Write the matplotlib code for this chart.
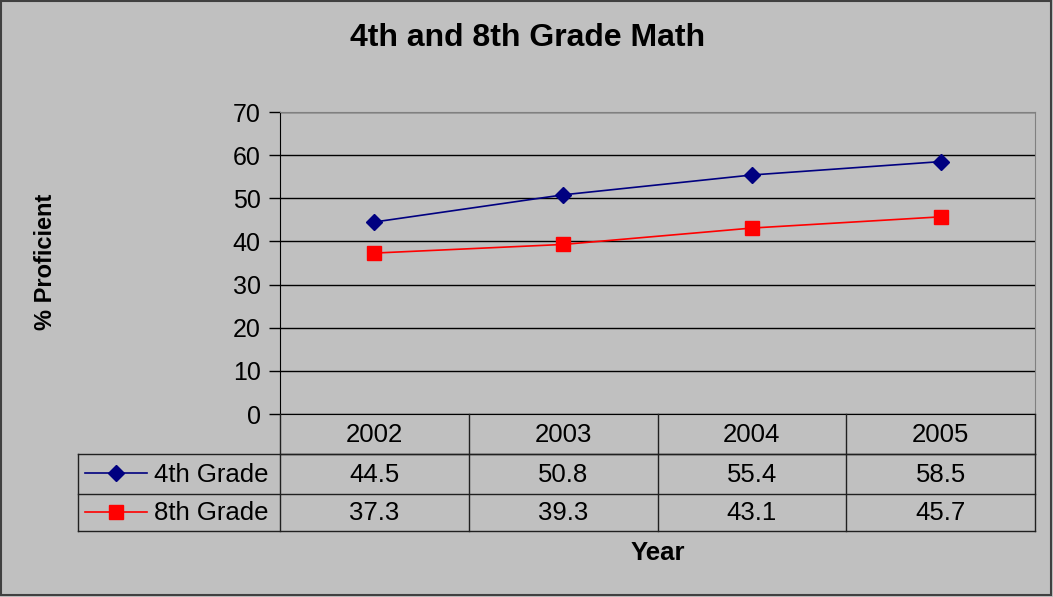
import matplotlib.pyplot as plt
from matplotlib.transforms import blended_transform_factory
from matplotlib.patches import Rectangle

years = ["2002", "2003", "2004", "2005"]
grade4 = [44.5, 50.8, 55.4, 58.5]
grade8 = [37.3, 39.3, 43.1, 45.7]
series_names = ["4th Grade", "8th Grade"]
yticks = [0, 10, 20, 30, 40, 50, 60, 70]

plt.rcParams.update(
    {
        "font.family": ["Liberation Sans", "DejaVu Sans"],
        "font.size": 18,
    }
)

W, H = 1053, 597
bg = "#C0C0C0"
fig = plt.figure(figsize=(W / 100, H / 100), dpi=100, facecolor=bg)


def box(left, top, right, bottom):
    # pixel box (from top-left) -> figure fraction rect
    return [left / W, 1 - bottom / H, (right - left) / W, (bottom - top) / H]


# --- main plot area ---
ax = fig.add_axes(box(280, 112, 1035, 414))
ax.set_facecolor(bg)
x = list(range(len(years)))
colors = ["#000080", "#FF0000"]
markers = ["D", "s"]
sizes = [8, 10]
for vals, c, m, s in zip([grade4, grade8], colors, markers, sizes):
    ax.plot(x, vals, color=c, marker=m, markersize=s, linewidth=1.2,
            markeredgecolor=c, zorder=3)

ax.set_xlim(-0.5, len(years) - 0.5)
ax.set_ylim(0, 70)
ax.set_yticks(yticks)
ax.set_xticks([])
ax.grid(True, axis="y", color="black", linewidth=1)
for side in ["top", "right"]:
    ax.spines[side].set_color("#808080")
ax.spines["left"].set_color("black")
ax.spines["bottom"].set_color("black")
ax.tick_params(axis="y", length=8, width=1, pad=6, labelsize=18)

# --- overlay in pixel coords for data table and texts ---
ov = fig.add_axes([0, 0, 1, 1], facecolor="none")
ov.set_xlim(0, W)
ov.set_ylim(H, 0)
ov.axis("off")
tr = blended_transform_factory(ax.transData, ov.transData)

# outer border
ov.add_patch(Rectangle((1, 1), W - 3, H - 3, fill=False, edgecolor="#404040",
                       linewidth=1.5))

rows_y = [414, 454, 494, 531]
bounds = [i - 0.5 for i in range(len(years) + 1)]
lc = "#202020"
# horizontal lines
ov.plot([bounds[0], bounds[-1]], [rows_y[1]] * 2, color=lc, lw=1, transform=tr)
ov.plot([78, 1035], [rows_y[1]] * 2, color=lc, lw=1)
ov.plot([78, 1035], [rows_y[2]] * 2, color=lc, lw=1)
ov.plot([78, 1035], [rows_y[3]] * 2, color=lc, lw=1)
# vertical lines
for b in bounds:
    ov.plot([b, b], [rows_y[0], rows_y[3]], color=lc, lw=1, transform=tr)
ov.plot([78, 78], [rows_y[1], rows_y[3]], color=lc, lw=1)

# header years
for i, yr in enumerate(years):
    ov.text(i, (rows_y[0] + rows_y[1]) / 2 + 1, yr, ha="center", va="center",
            transform=tr, fontsize=18.5)

# values and legend keys
for r, (name, vals, c, m, s) in enumerate(zip(series_names, [grade4, grade8],
                                              colors, markers, sizes)):
    yc = (rows_y[r + 1] + rows_y[r + 2]) / 2 + 1
    for i, v in enumerate(vals):
        ov.text(i, yc, f"{v:.1f}", ha="center", va="center", transform=tr,
                fontsize=18.5)
    ov.plot([85, 147], [yc - 2, yc - 2], color=c, lw=1.2)
    ov.plot([116], [yc - 2], marker=m, markersize=s, color=c, markeredgecolor=c)
    ov.text(154, yc, name, ha="left", va="center", fontsize=18.5)

# titles
ov.text(528, 38, "4th and 8th Grade Math", ha="center", va="center",
        fontsize=23, fontweight="bold")
ov.text(658, 553, "Year", ha="center", va="center", fontsize=18.5,
        fontweight="bold")
ov.text(45, 262, "% Proficient", ha="center", va="center", rotation=90,
        fontsize=17, fontweight="bold")

fig.savefig("out.png", dpi=100, facecolor=bg)
